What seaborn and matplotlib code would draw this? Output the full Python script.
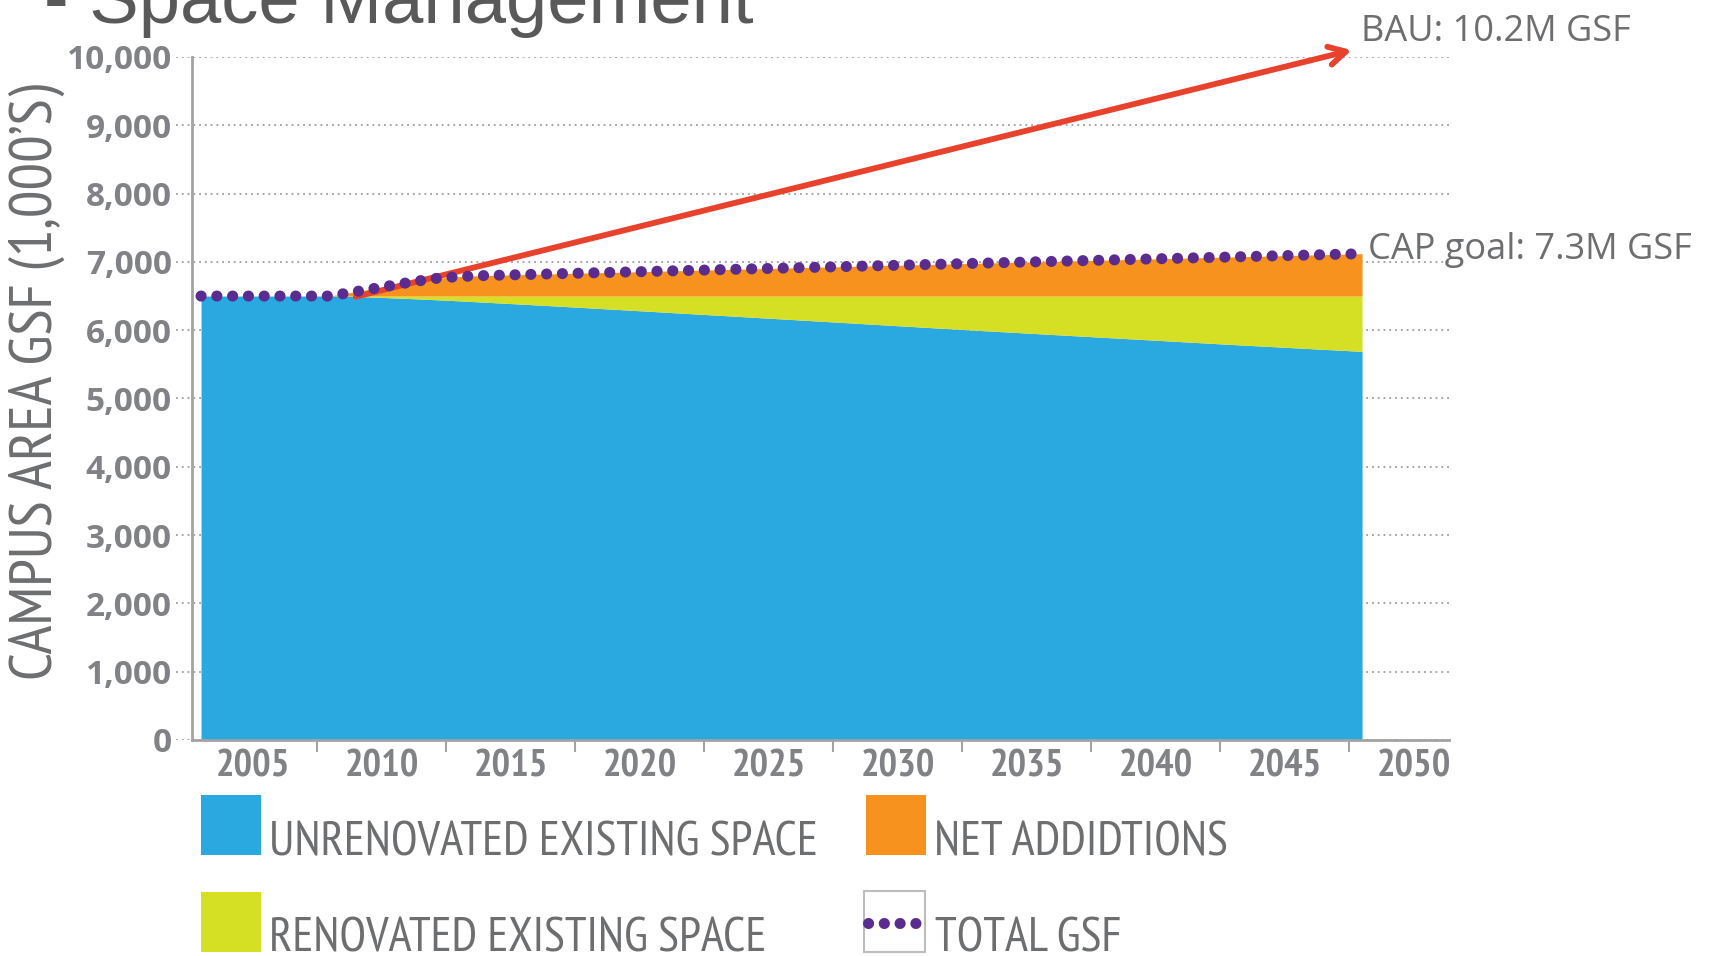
import matplotlib
matplotlib.use("Agg")
import matplotlib.pyplot as plt
import seaborn as sns
from matplotlib.lines import Line2D
from matplotlib.patches import Rectangle

# values (thousands of GSF)
YEARS = [2005, 2010, 2011, 2012, 2013, 2014, 2015, 2016, 2018, 2020, 2025, 2030, 2035, 2040, 2045, 2050]
UNRENOVATED = [6500, 6500, 6495, 6480, 6465, 6448, 6430, 6410, 6370, 6328, 6220, 6110, 6000, 5895, 5790, 5690]
RENOVATED = [0, 0, 5, 20, 35, 52, 70, 90, 130, 172, 280, 390, 500, 605, 710, 810]
TOTAL_GSF = [6500, 6500, 6565, 6630, 6695, 6755, 6785, 6800, 6819, 6838, 6885, 6932, 6979, 7026, 7073, 7120]
BAU_YEARS = [2011, 2049.6]
BAU_GSF = [6490, 10100]

TICK_YEARS = [2005, 2010, 2015, 2020, 2025, 2030, 2035, 2040, 2045, 2050]
Y_TICKS = [0, 1000, 2000, 3000, 4000, 5000, 6000, 7000, 8000, 9000, 10000]
LEGEND_LABELS = ["UNRENOVATED EXISTING SPACE", "NET ADDIDTIONS", "RENOVATED EXISTING SPACE", "TOTAL GSF"]

BLUE = "#29a9e0"
YELLOW = "#d5df23"
ORANGE = "#f7921e"
PURPLE = "#5b2c8f"
RED = "#e8412c"
TEXT_GRAY = "#6d6e70"
TICK_GRAY = "#808285"
AXIS_GRAY = "#a3a3a3"
NARROW = ["PT Sans Narrow", "Roboto Condensed", "DejaVu Sans"]

W, H = 1721, 956


def fx(x):
    return x / W


def fy(y):
    return 1 - y / H


sns.set_theme(style="white")
plt.rcParams["font.family"] = ["Open Sans", "DejaVu Sans"]

fig = plt.figure(figsize=(W / 100, H / 100), dpi=100)
ax = fig.add_axes([fx(176), fy(740), (1449 - 176) / W, (740 - 57) / H])

stack_top = [u + r for u, r in zip(UNRENOVATED, RENOVATED)]
ax.fill_between(YEARS, 0, UNRENOVATED, color=BLUE, lw=0, zorder=2)
ax.fill_between(YEARS, UNRENOVATED, stack_top, color=YELLOW, lw=0, zorder=2)
ax.fill_between(YEARS, stack_top, TOTAL_GSF, color=ORANGE, lw=0, zorder=2)

ax.annotate("", xy=(BAU_YEARS[1], BAU_GSF[1]), xytext=(BAU_YEARS[0], BAU_GSF[0]),
            arrowprops=dict(arrowstyle="->,head_length=0.55,head_width=0.3", color=RED, lw=4.2,
                            shrinkA=0, shrinkB=0, mutation_scale=22),
            zorder=3, annotation_clip=False)

sns.lineplot(x=YEARS, y=TOTAL_GSF, ax=ax, color=PURPLE, linewidth=8,
             linestyle=(0, (0.01, 1.41)), dash_capstyle="round", zorder=4)

ax.set_xlim(2004.03, 2053.37)
ax.set_ylim(0, 10000)
ax.set_axisbelow(True)
ax.yaxis.grid(True, color="#9d9d9d", linestyle=(0, (1, 2.2)), linewidth=1.3)
ax.xaxis.grid(False)

for side in ("top", "right"):
    ax.spines[side].set_visible(False)
ax.spines["left"].set_position(("data", 2004.65))
ax.spines["left"].set_bounds(0, 10000)
ax.spines["bottom"].set_bounds(2004.65, 2053.37)
for side in ("left", "bottom"):
    ax.spines[side].set_color(AXIS_GRAY)
    ax.spines[side].set_linewidth(2)

ax.set_yticks(Y_TICKS, labels=[f"{v:,}" for v in Y_TICKS], fontsize=24, fontweight="bold",
              family="Open Sans", color=TICK_GRAY)
ax.set_xticks([y + 2.0 for y in TICK_YEARS], labels=[str(y) for y in TICK_YEARS], fontsize=28,
              fontweight="bold", family=NARROW, color=TICK_GRAY)
ax.set_xticks([y + 4.5 for y in TICK_YEARS[:-1]], minor=True)
ax.tick_params(axis="y", length=0, pad=14.4)
ax.tick_params(axis="x", which="major", length=0, pad=7)
ax.tick_params(axis="x", which="minor", bottom=True, length=8.6, width=1.5, color=AXIS_GRAY, direction="out")

ax.text(2049.96, 10234, "BAU: 10.2M GSF", fontsize=26, color=TEXT_GRAY, va="baseline", clip_on=False)
ax.text(2050.23, 7042, "CAP goal: 7.3M GSF", fontsize=26, color=TEXT_GRAY, va="baseline", clip_on=False)

fig.text(fx(44), fy(23), "- Space Management", fontsize=53.5, family="Liberation Sans",
         color="#595959", va="baseline")
fig.text(fx(37), fy(382), "CAMPUS AREA GSF (1,000\u2019S)", rotation=90, ha="center", va="center",
         fontsize=44, family=NARROW, color=TEXT_GRAY)

# legend drawn by hand: big square swatches with the label sitting on their bottom edge
swatches = [(201, 795, BLUE), (866, 795, ORANGE), (201, 892, YELLOW)]
for (x0, y0, color), label in zip(swatches, LEGEND_LABELS[:3]):
    fig.add_artist(Rectangle((fx(x0), fy(y0 + 60)), 60 / W, 60 / H, transform=fig.transFigure,
                             facecolor=color, edgecolor="none"))
    fig.text(fx(x0 + 68), fy(y0 + 60), label, fontsize=35, family=NARROW,
             color=TEXT_GRAY, va="baseline")
fig.add_artist(Rectangle((fx(864), fy(952)), 61 / W, 61 / H, transform=fig.transFigure,
                         facecolor="white", edgecolor="#bdbdbd", lw=1.5))
fig.add_artist(Line2D([fx(868), fx(921)], [fy(923), fy(923)], transform=fig.transFigure,
                      color=PURPLE, lw=8, linestyle=(0, (0.01, 1.41)), dash_capstyle="round"))
fig.text(fx(935), fy(952), LEGEND_LABELS[3], fontsize=35, family=NARROW,
         color=TEXT_GRAY, va="baseline")

fig.savefig("out.png", dpi=100)
